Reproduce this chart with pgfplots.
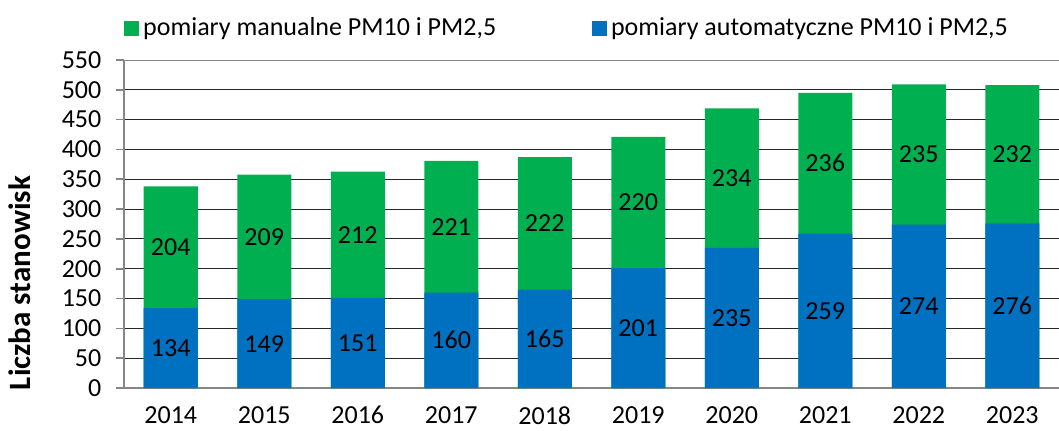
\documentclass[border=0pt]{standalone}
\usepackage{fontspec}
\setmainfont{Carlito}
\usepackage{pgfplots}
\pgfplotsset{compat=1.18}
\usepackage{pgfplotstable}

\definecolor{autoblue}{HTML}{0070C0}
\definecolor{mangreen}{HTML}{00B050}
\definecolor{axisgray}{HTML}{868686}

% rok, pomiary automatyczne, pomiary manualne
\pgfplotstableread{
x year auto manual
0 2014 134 204
1 2015 149 209
2 2016 151 212
3 2017 160 221
4 2018 165 222
5 2019 201 220
6 2020 235 234
7 2021 259 236
8 2022 274 235
9 2023 276 232
}\stations

\newcommand{\lbl}{\fontsize{13}{15.6}\selectfont}

\begin{document}
\begin{tikzpicture}
\begin{axis}[
  at={(0,0)}, anchor=south west,
  scale only axis, width=467.5pt, height=164pt,
  xmin=-0.5, xmax=9.5, ymin=0, ymax=550,
  xtick={0,...,9},
  xticklabels={2014,2015,2016,2017,2018,2019,2020,2021,2022,2023},
  ytick={0,50,...,550},
  axis lines*=left,
  axis line style={axisgray, line width=0.8pt},
  x tick style={draw=none},
  y tick style={axisgray, line width=0.8pt},
  tick align=outside, major tick length=4pt,
  ymajorgrids, grid style={black!85, line width=0.5pt},
  tick label style={font=\lbl},
  /pgf/number format/assume math mode=true,
  xticklabel style={yshift=-4pt, inner ysep=1pt},
  yticklabel style={xshift=-3.8pt},
  ylabel={\bfseries Liczba stanowisk},
  ylabel style={font=\fontsize{15.5}{18}\selectfont, at={(axis description cs:-0.112,0.32)}, anchor=center},
  legend columns=2,
  legend style={at={(axis description cs:0,1)}, anchor=west, yshift=16pt,
    draw=none, fill=none, inner sep=0pt, font=\lbl,
    /tikz/every even column/.append style={column sep=46pt}},
]
\addlegendimage{legend image code/.code={\fill[mangreen] (0pt,-3.5pt) rectangle (7pt,3.5pt);}}
\addlegendentry{pomiary manualne PM10 i PM2,5}
\addlegendimage{legend image code/.code={\fill[autoblue] (0pt,-3.5pt) rectangle (7pt,3.5pt);}}
\addlegendentry{pomiary automatyczne PM10 i PM2,5}

% suma (zielona część widoczna nad niebieską)
\addplot[forget plot, ybar, bar width=27pt, bar shift=0pt, fill=mangreen, draw=none]
  table[x=x, y expr=\thisrow{auto}+\thisrow{manual}] {\stations};
\addplot[forget plot, ybar, bar width=27pt, bar shift=0pt, fill=autoblue, draw=none]
  table[x=x, y=auto] {\stations};

% etykiety wartości w środku segmentów
\addplot[forget plot, only marks, mark=none, point meta=explicit, nodes near coords,
  nodes near coords style={anchor=center, font=\lbl, text=black}]
  table[x=x, y expr=\thisrow{auto}/2, meta=auto] {\stations};
\addplot[forget plot, only marks, mark=none, point meta=explicit, nodes near coords,
  nodes near coords style={anchor=center, font=\lbl, text=black}]
  table[x=x, y expr=\thisrow{auto}+\thisrow{manual}/2, meta=manual] {\stations};

\draw[axisgray, line width=0.8pt] (axis cs:-0.5,550) -- (axis cs:9.5,550);
\end{axis}
\pgfresetboundingbox
\path (-62pt,-21pt) rectangle (467.5pt,194pt);
\end{tikzpicture}
\end{document}
